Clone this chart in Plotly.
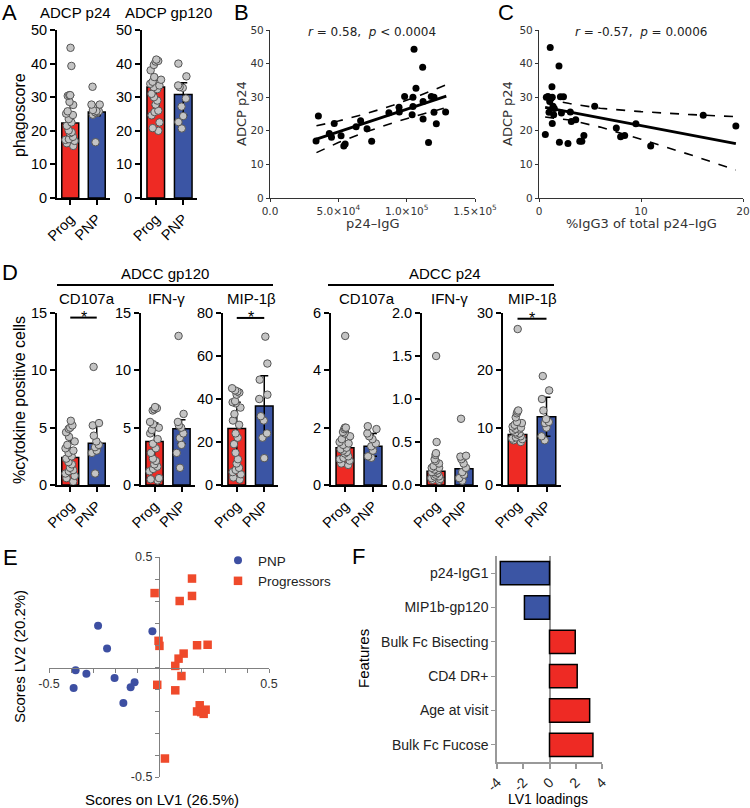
import plotly.graph_objects as go

W, H = 750, 808
def fx(p): return p / W
def fy(p): return 1 - p / H

RED = '#EE2A24'
BLUE = '#3B55A4'
ARIAL = 'Liberation Sans, Arial, sans-serif'
LUC = 'DejaVu Sans, sans-serif'

groups = ['Prog', 'PNP']

# ---------------- Panel A data ----------------
adcp_p24_prog = [44.7, 39.3, 30.6, 30.6, 30.4, 28.6, 27.7, 25.8, 25.1, 24.7, 23.5, 22.5,
                 21.5, 20.1, 19.6, 19.3, 18.2, 17.5, 17.3, 17.0, 16.3, 15.5]
adcp_p24_pnp = [33.1, 27.8, 27.8, 26.2, 25.9, 25.8, 25.5, 25.3, 24.8, 16.6]
adcp_p24_bar = [22.3, 25.6]
adcp_p24_hi = [30.6, 27.8]
adcp_p24_lo = [18.5, 24.5]

adcp_gp120_prog = [41.2, 40.8, 40.6, 39.6, 38.0, 36.0, 35.2, 34.6, 34.0, 33.5, 33.0, 32.4,
                   31.0, 30.0, 29.0, 27.8, 26.0, 25.6, 24.6, 22.5, 20.8, 20.0]
adcp_gp120_pnp = [40.0, 36.2, 33.5, 33.0, 32.8, 29.6, 27.2, 24.4, 22.6, 20.7]
adcp_gp120_bar = [33.0, 30.8]
adcp_gp120_hi = [35.2, 34.3]
adcp_gp120_lo = [27.5, 24.6]

# ---------------- Panel B data ----------------
b_x = [3.37e4, 3.54e4, 4.34e4, 4.50e4, 4.70e4, 5.20e4, 5.40e4, 5.50e4, 6.30e4, 6.63e4,
       7.10e4, 7.44e4, 8.70e4, 9.44e4, 9.46e4, 9.85e4, 1.040e5, 1.046e5, 1.046e5, 1.054e5,
       1.068e5, 1.117e5, 1.120e5, 1.120e5, 1.160e5, 1.180e5, 1.200e5, 1.200e5, 1.217e5, 1.285e5]
b_y = [17.0, 24.4, 19.2, 18.1, 22.2, 18.5, 15.5, 16.1, 21.2, 23.0, 20.6, 16.9, 25.4, 27.0,
       25.6, 30.2, 24.8, 27.2, 30.0, 44.3, 32.7, 38.9, 28.7, 23.5, 16.5, 30.2, 30.0, 25.5, 22.1, 25.6]
b_fit_x = [3.4e4, 1.29e5]
b_fit_y = [17.5, 30.3]
b_ci_x = [3.4e4, 5.0e4, 7.0e4, 9.0e4, 1.10e5, 1.29e5]
b_ci_hi = [21.5, 22.9, 25.05, 27.6, 30.6, 33.7]
b_ci_lo = [13.5, 16.5, 19.65, 22.4, 24.8, 26.9]

# ---------------- Panel C data ----------------
c_x = [0.62, 0.72, 0.88, 0.98, 1.05, 1.1, 1.2, 1.27, 1.3, 1.3, 1.37, 1.44, 1.5, 1.96, 2.0,
       2.1, 2.2, 2.4, 2.84, 3.07, 3.17, 3.6, 4.0, 4.2, 4.4, 5.46, 7.58, 8.0, 8.4, 9.5, 10.95, 16.1, 19.3]
c_y = [18.9, 30.0, 30.2, 25.5, 28.7, 44.8, 29.8, 33.1, 30.0, 22.2, 27.3, 24.8, 26.6, 39.3, 16.6,
       30.1, 25.3, 30.1, 16.2, 25.6, 22.8, 23.3, 16.9, 16.9, 18.6, 27.3, 20.8, 18.2, 18.6, 22.1, 15.5, 24.6, 21.4]
c_fit_x = [0.6, 19.3]
c_fit_y = [27.0, 16.2]
c_ci_x = [0.6, 3.0, 6.0, 10.0, 15.0, 19.3]
c_ci_hi = [29.6, 28.1, 26.7, 25.7, 24.8, 24.2]
c_ci_lo = [24.1, 23.2, 21.1, 17.5, 12.7, 8.3]

# ---------------- Panel D data ----------------
gp_cd107_prog = [5.6, 5.2, 5.0, 4.9, 4.6, 4.2, 3.8, 3.5, 3.2, 3.0, 2.8, 2.5, 2.3, 2.0, 1.8,
                 1.5, 1.3, 1.2, 1.0, 0.8, 0.6, 0.3]
gp_cd107_pnp = [10.3, 5.4, 5.2, 4.3, 3.8, 3.5, 3.3, 3.0, 2.8, 1.0]
gp_cd107_bar = [2.4, 3.65]
gp_cd107_hi = [4.0, 5.2]
gp_cd107_lo = [1.3, 3.0]

gp_ifng_prog = [6.8, 6.7, 6.6, 6.5, 5.5, 5.3, 5.0, 4.8, 4.5, 4.0, 3.6, 3.2, 2.8, 2.3, 2.1,
                1.8, 1.6, 1.4, 1.2, 0.6, 0.5, 0.4]
gp_ifng_pnp = [13.0, 6.2, 5.5, 5.2, 5.0, 4.5, 4.1, 3.5, 2.8, 1.5]
gp_ifng_bar = [3.8, 4.9]
gp_ifng_hi = [5.4, 5.7]
gp_ifng_lo = [1.6, 3.6]

gp_mip_prog = [45, 44, 43.5, 43, 42, 39, 38.5, 38, 36, 33, 30, 28, 24, 22, 19, 15, 12, 10,
               8, 7, 6, 5, 3.5, 2.5]
gp_mip_pnp = [69, 56.5, 49, 42, 40, 32, 30, 24, 22, 12.5]
gp_mip_bar = [26.3, 36.8]
gp_mip_hi = [38.5, 50.8]
gp_mip_lo = [8.0, 22.8]

p24_cd107_prog = [5.2, 2.0, 2.0, 1.95, 1.85, 1.8, 1.7, 1.6, 1.5, 1.45, 1.4, 1.3, 1.25, 1.2,
                  1.15, 1.1, 1.0, 0.95, 0.9, 0.85, 0.75, 0.7]
p24_cd107_pnp = [2.05, 1.95, 1.8, 1.7, 1.6, 1.45, 1.35, 1.2, 1.0, 0.95]
p24_cd107_bar = [1.3, 1.35]
p24_cd107_hi = [1.85, 1.8]
p24_cd107_lo = [1.0, 1.0]

p24_ifng_prog = [1.5, 0.5, 0.37, 0.35, 0.3, 0.28, 0.25, 0.22, 0.2, 0.2, 0.18, 0.17, 0.15,
                 0.15, 0.14, 0.12, 0.1, 0.1, 0.08, 0.07, 0.06, 0.05]
p24_ifng_pnp = [0.77, 0.34, 0.33, 0.3, 0.25, 0.2, 0.15, 0.12, 0.08, 0.05]
p24_ifng_bar = [0.16, 0.19]
p24_ifng_hi = [0.22, 0.33]
p24_ifng_lo = [0.10, 0.10]

p24_mip_prog = [27.2, 13.0, 12.8, 12.5, 11.8, 11.0, 10.8, 10.5, 10.2, 10.0, 9.8, 9.7, 9.5,
                9.2, 9.0, 8.8, 8.5, 8.3, 8.1, 8.0, 7.8, 7.5]
p24_mip_pnp = [19, 16.5, 15, 13, 11.5, 11, 10.8, 10, 8.5, 7.8]
p24_mip_bar = [8.8, 11.9]
p24_mip_hi = [10.5, 15.3]
p24_mip_lo = [8.0, 8.5]

sig_gp_cd107 = 14.6
sig_gp_mip = 77.7
sig_p24_mip = 29.0

# ---------------- Panel E data ----------------
e_pnp_x = [-0.277, -0.030, -0.236, -0.379, -0.330, -0.202, -0.111, -0.129, -0.388, -0.162]
e_pnp_y = [0.187, 0.162, 0.084, -0.015, -0.031, -0.050, -0.069, -0.092, -0.096, -0.164]
e_prog_x = [0.150, -0.020, 0.150, 0.094, -0.002, 0.002, 0.173, 0.221, 0.112, 0.089, 0.074,
            0.102, -0.008, 0.074, 0.185, 0.173, 0.192, 0.212, 0.203, 0.027]
e_prog_y = [0.402, 0.336, 0.323, 0.300, 0.119, 0.096, 0.099, 0.101, 0.061, 0.038, 0.005,
            -0.041, -0.081, -0.106, -0.174, -0.202, -0.205, -0.194, -0.213, -0.416]
e_tick_major = [-0.5, 0.5]
e_tick_labels = ['-0.5', '0.5']
e_tick_minor = [-0.4, -0.3, -0.2, -0.1, 0.0, 0.1, 0.2, 0.3, 0.4]

# ---------------- Panel F data ----------------
f_features = ['p24-IgG1', 'MIP1b-gp120', 'Bulk Fc Bisecting', 'CD4 DR+', 'Age at visit', 'Bulk Fc Fucose']
f_loadings = [-3.75, -1.91, 1.96, 2.11, 3.06, 3.31]

fig = go.Figure()
axes = {}
annotations = []
shapes = []


def names(n):
    s = '' if n == 1 else str(n)
    return 'x' + s, 'y' + s, 'xaxis' + s, 'yaxis' + s


def bar_panel(n, prog, pnp, bar, hi, lo, x0, x1, y0, y1, yrng, dtick, tickformat=None):
    xa, ya, xk, yk = names(n)
    fig.add_trace(go.Bar(
        x=groups, y=bar, width=0.64,
        marker=dict(color=[RED, BLUE], line=dict(color='black', width=1.5)),
        error_y=dict(type='data', symmetric=False,
                     array=[h - b for h, b in zip(hi, bar)],
                     arrayminus=[b - l for b, l in zip(bar, lo)],
                     color='black', thickness=1.5, width=4),
        xaxis=xa, yaxis=ya, showlegend=False, hoverinfo='skip'))
    fig.add_trace(go.Box(
        x=['Prog'] * len(prog) + ['PNP'] * len(pnp), y=prog + pnp,
        boxpoints='all', jitter=0.9, pointpos=0,
        fillcolor='rgba(0,0,0,0)', line=dict(width=0, color='rgba(0,0,0,0)'),
        marker=dict(color='#C4C4C4', size=7.5, line=dict(color='#555555', width=1)),
        xaxis=xa, yaxis=ya, showlegend=False, hoverinfo='skip'))
    axes[xk] = dict(domain=[fx(x0), fx(x1)], anchor=ya, type='category',
                    categoryorder='array', categoryarray=groups, range=[-0.5, 1.5],
                    showline=True, linecolor='black', linewidth=2, ticks='outside',
                    ticklen=5, tickwidth=2, tickcolor='black', tickangle=-45,
                    tickfont=dict(size=14.5, color='black', family=ARIAL),
                    showgrid=False, zeroline=False, fixedrange=True, automargin=False)
    yd = dict(domain=[fy(y1), fy(y0)], anchor=xa, range=yrng, dtick=dtick, tick0=0,
              showline=True, linecolor='black', linewidth=2, ticks='outside',
              ticklen=5, tickwidth=2, tickcolor='black',
              tickfont=dict(size=14.5, color='black', family=ARIAL),
              showgrid=False, zeroline=False, fixedrange=True, automargin=False)
    if tickformat:
        yd['tickformat'] = tickformat
    axes[yk] = yd


def sig(n, yv):
    xa, ya, _, _ = names(n)
    shapes.append(dict(type='line', xref=xa, yref=ya, x0=0, x1=1, y0=yv, y1=yv,
                       line=dict(color='black', width=2)))
    annotations.append(dict(text='*', xref=xa, yref=ya, x=0.5, y=yv, yanchor='bottom',
                            showarrow=False, yshift=-10, font=dict(size=16, color='black')))


# A
bar_panel(1, adcp_p24_prog, adcp_p24_pnp, adcp_p24_bar, adcp_p24_hi, adcp_p24_lo,
          57, 110, 30, 198, [0, 50], 10)
bar_panel(2, adcp_gp120_prog, adcp_gp120_pnp, adcp_gp120_bar, adcp_gp120_hi, adcp_gp120_lo,
          142, 197, 30, 198, [0, 50], 10)

# D
bar_panel(5, gp_cd107_prog, gp_cd107_pnp, gp_cd107_bar, gp_cd107_hi, gp_cd107_lo,
          57, 110, 313, 485, [0, 15], 5)
bar_panel(6, gp_ifng_prog, gp_ifng_pnp, gp_ifng_bar, gp_ifng_hi, gp_ifng_lo,
          141, 195, 313, 485, [0, 15], 5)
bar_panel(7, gp_mip_prog, gp_mip_pnp, gp_mip_bar, gp_mip_hi, gp_mip_lo,
          223, 278, 313, 485, [0, 80], 20)
bar_panel(8, p24_cd107_prog, p24_cd107_pnp, p24_cd107_bar, p24_cd107_hi, p24_cd107_lo,
          331, 387, 313, 485, [0, 6], 2)
bar_panel(9, p24_ifng_prog, p24_ifng_pnp, p24_ifng_bar, p24_ifng_hi, p24_ifng_lo,
          422, 478, 313, 485, [0, 2], 0.5, '.1f')
bar_panel(10, p24_mip_prog, p24_mip_pnp, p24_mip_bar, p24_mip_hi, p24_mip_lo,
          503, 561, 313, 485, [0, 30], 10)
sig(5, sig_gp_cd107)
sig(7, sig_gp_mip)
sig(10, sig_p24_mip)


# B and C scatter panels
def scatter_panel(n, xs, ys, fx_, fy_, cix, cihi, cilo, x0, x1, xr, xtv, xtt):
    xa, ya, xk, yk = names(n)
    fig.add_trace(go.Scatter(x=cix, y=cihi, mode='lines', line=dict(color='black', width=1.6, dash='dash'),
                             xaxis=xa, yaxis=ya, showlegend=False, hoverinfo='skip'))
    fig.add_trace(go.Scatter(x=cix, y=cilo, mode='lines', line=dict(color='black', width=1.6, dash='dash'),
                             xaxis=xa, yaxis=ya, showlegend=False, hoverinfo='skip'))
    fig.add_trace(go.Scatter(x=fx_, y=fy_, mode='lines', line=dict(color='black', width=2.8),
                             xaxis=xa, yaxis=ya, showlegend=False, hoverinfo='skip'))
    fig.add_trace(go.Scatter(x=xs, y=ys, mode='markers', marker=dict(color='black', size=7),
                             xaxis=xa, yaxis=ya, showlegend=False, hoverinfo='skip', cliponaxis=False))
    common = dict(showline=True, linecolor='#333333', linewidth=1.2, ticks='outside', ticklen=3,
                  tickwidth=1.2, tickcolor='#333333', tickfont=dict(size=10.5, color='#333333', family=LUC),
                  showgrid=False, zeroline=False, fixedrange=True, automargin=False)
    axes[xk] = dict(domain=[fx(x0), fx(x1)], anchor=ya, range=xr, tickvals=xtv, ticktext=xtt, **common)
    axes[yk] = dict(domain=[fy(198), fy(30)], anchor=xa, range=[0, 50], dtick=10, **common)


scatter_panel(3, b_x, b_y, b_fit_x, b_fit_y, b_ci_x, b_ci_hi, b_ci_lo, 270, 475, [0, 1.5e5],
              [0, 5e4, 1e5, 1.5e5],
              ['0.0', '5.0×10<sup>4</sup>', '1.0×10<sup>5</sup>', '1.5×10<sup>5</sup>'])
scatter_panel(4, c_x, c_y, c_fit_x, c_fit_y, c_ci_x, c_ci_hi, c_ci_lo, 539, 743, [0, 20],
              [0, 10, 20], ['0', '10', '20'])

# E
fig.add_trace(go.Scatter(x=e_pnp_x, y=e_pnp_y, mode='markers', name='PNP',
                         marker=dict(symbol='circle', color='#3D4FA2', size=8),
                         xaxis='x11', yaxis='y11', hoverinfo='skip'))
fig.add_trace(go.Scatter(x=e_prog_x, y=e_prog_y, mode='markers', name='Progressors',
                         marker=dict(symbol='square', color='#EF4A2B', size=8.5),
                         xaxis='x11', yaxis='y11', hoverinfo='skip'))
ecommon = dict(range=[-0.5, 0.5], anchor='free', showline=True, linecolor='#808080', linewidth=1.2,
               ticks='outside', ticklen=4, tickwidth=1, tickcolor='#808080',
               tickmode='array', tickvals=e_tick_major, ticktext=e_tick_labels,
               minor=dict(tickmode='array', tickvals=e_tick_minor, ticks='outside', ticklen=4,
                          tickwidth=1, tickcolor='#808080', showgrid=False),
               tickfont=dict(size=12.5, color='#333333', family=ARIAL),
               showgrid=False, zeroline=False, fixedrange=True, automargin=False)
axes['xaxis11'] = dict(domain=[fx(49), fx(269)], position=fy(668), **ecommon)
axes['yaxis11'] = dict(domain=[fy(777), fy(557)], position=fx(159), **ecommon)

# F
fig.add_trace(go.Bar(x=f_loadings, y=f_features, orientation='h', width=0.68,
                     marker=dict(color=[BLUE if v < 0 else RED for v in f_loadings],
                                 line=dict(color='black', width=1.5)),
                     xaxis='x12', yaxis='y12', showlegend=False, hoverinfo='skip'))
axes['xaxis12'] = dict(domain=[fx(497), fx(602)], anchor='y12', range=[-4, 4],
                       tickvals=[-4, -2, 0, 2, 4], ticktext=['-4', '-2', '0', '2', '4'],
                       tickangle=-45, showline=True, linecolor='#999999', linewidth=1.5,
                       ticks='outside', ticklen=5, tickwidth=1.5, tickcolor='#999999',
                       tickfont=dict(size=14, color='#222222', family=ARIAL),
                       zeroline=True, zerolinecolor='#999999', zerolinewidth=1.5,
                       showgrid=False, fixedrange=True, automargin=False)
axes['yaxis12'] = dict(domain=[fy(762), fy(556)], anchor='x12', type='category',
                       categoryorder='array', categoryarray=f_features, range=[5.5, -0.5],
                       showline=True, linecolor='#999999', linewidth=1.5, ticks='outside',
                       ticklen=4, tickwidth=1.2, tickcolor='#999999',
                       tickfont=dict(size=14, color='#222222', family=ARIAL),
                       showgrid=False, zeroline=False, fixedrange=True, automargin=False)


def text(t, x, y, size=15, angle=0, family=ARIAL, color='black', xanchor='center'):
    annotations.append(dict(text=t, x=fx(x), y=fy(y), xref='paper', yref='paper',
                            xanchor=xanchor, yanchor='middle', showarrow=False, textangle=angle,
                            font=dict(size=size, family=family, color=color)))


# panel letters
for letter, lx, ly in [('A', 9, 12), ('B', 241, 12), ('C', 506, 12), ('D', 10, 272),
                       ('E', 10, 557), ('F', 358, 556)]:
    text(letter, lx, ly, size=22)

# A texts
text('ADCP p24', 75, 12, 15)
text('ADCP gp120', 168, 12, 15)
text('phagoscore', 19, 115, 16, -90)

# B/C texts
text('<i>r</i> = 0.58,  <i>p</i> &lt; 0.0004', 372, 32, 12, family=LUC, color='#222222')
text('p24–IgG', 372, 223, 13, family=LUC, color='#333333')
text('ADCP p24', 241, 114, 13, -90, family=LUC, color='#333333')
text('<i>r</i> = -0.57,  <i>p</i> = 0.0006', 641, 32, 12, family=LUC, color='#222222')
text('%IgG3 of total p24–IgG', 641, 223, 13, family=LUC, color='#333333')
text('ADCP p24', 507, 114, 13, -90, family=LUC, color='#333333')

# D texts
text('ADCC gp120', 165, 273, 15)
text('ADCC p24', 445, 273, 15)
shapes.append(dict(type='line', xref='paper', yref='paper', x0=fx(57), x1=fx(273), y0=fy(285), y1=fy(285),
                   line=dict(color='black', width=2)))
shapes.append(dict(type='line', xref='paper', yref='paper', x0=fx(328), x1=fx(554), y0=fy(285), y1=fy(285),
                   line=dict(color='black', width=2)))
for t, tx in [('CD107a', 87), ('IFN-γ', 166), ('MIP-1β', 251), ('CD107a', 367), ('IFN-γ', 449), ('MIP-1β', 532)]:
    text(t, tx, 298, 15)
text('%cytokine positive cells', 19, 400, 16, -90)

# E texts
text('Scores on LV1 (26.5%)', 162, 799, 15)
text('Scores LV2 (20.2%)', 19, 657, 15, -90)

# F texts
text('Features', 363, 659, 15, -90)
text('LV1 loadings', 548, 799, 14)

fig.update_layout(
    template='none',
    width=W, height=H, margin=dict(l=0, r=0, t=0, b=0, autoexpand=False),
    paper_bgcolor='white', plot_bgcolor='white',
    font=dict(family=ARIAL, color='black'),
    showlegend=True,
    legend=dict(x=fx(218), y=fy(545), xanchor='left', yanchor='top', bgcolor='rgba(0,0,0,0)',
                font=dict(size=13.5, family=ARIAL, color='#222222'), tracegroupgap=4),
    annotations=annotations, shapes=shapes,
    bargap=0.3, boxgap=0.3,
    **axes)

fig.write_html('out.html', config={'displayModeBar': False},
               post_script="document.body.style.margin='0';document.body.style.overflow='hidden';")
